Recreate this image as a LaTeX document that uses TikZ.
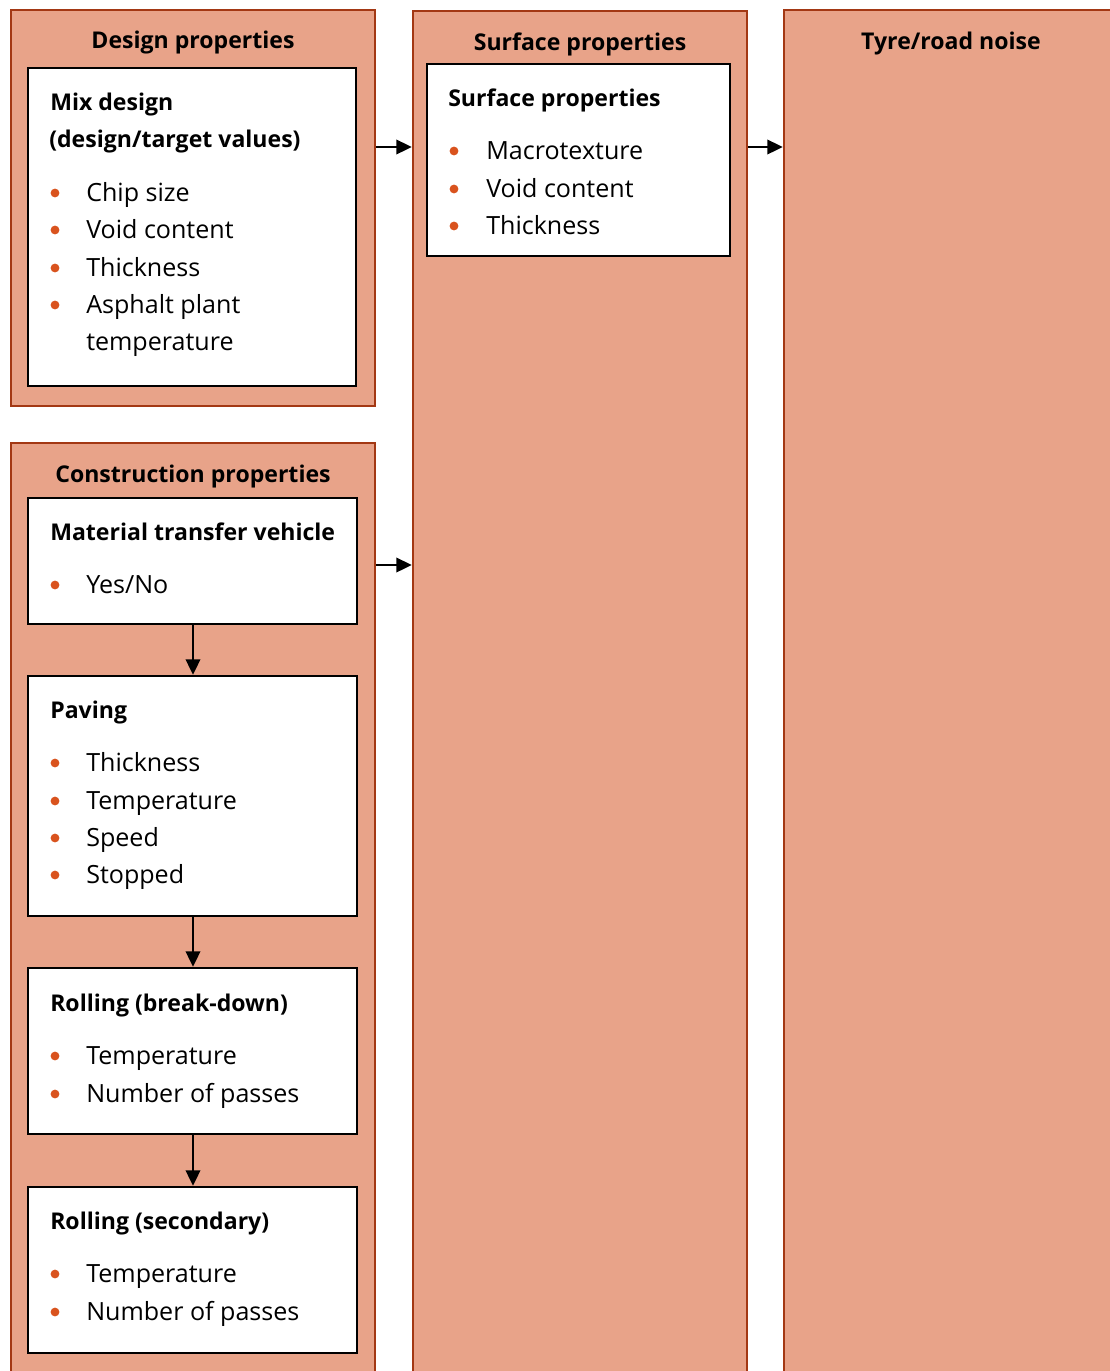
\documentclass[tikz,border=0pt]{standalone}
\usepackage{fontspec}
\setmainfont{Open Sans}
\usetikzlibrary{arrows.meta,fit}
\definecolor{panelfill}{RGB}{232,163,137}
\definecolor{paneldraw}{RGB}{163,56,20}
\definecolor{dotcol}{RGB}{217,83,30}
\tikzset{
  panel/.style={draw=paneldraw,line width=2pt,fill=panelfill,inner sep=0pt},
  inbox/.style={draw=black,line width=2pt,fill=white,inner sep=0pt},
  ttl/.style={anchor=base,inner sep=0pt,font=\fontsize{17.3pt}{20pt}\selectfont\bfseries},
  hd/.style={anchor=base west,inner sep=0pt,font=\fontsize{17.3pt}{20pt}\selectfont\bfseries},
  item/.style={anchor=base west,inner sep=0pt,font=\fontsize{18.8pt}{22pt}\selectfont},
  dot/.style={fill=dotcol},
  arr/.style={line width=1.2pt,-{Triangle[length=11.5pt,width=11pt]}}
}
\begin{document}
\begin{tikzpicture}[x=0.75pt,y=0.75pt,yscale=-1,xscale=1]
\useasboundingbox (0,0) rectangle (1110,1371);
\clip (0,0) rectangle (1110,1371);

% panels
\node[panel,fit={(11,10) (375,406)}] (design) {};
\node[panel,fit={(413,11) (747,1390)}] (surface) {};
\node[panel,fit={(784,10) (1130,1390)}] (noise) {};
\node[panel,fit={(11,443) (375,1390)}] (constr) {};

% panel titles
\node[ttl] (designttl) at (193,48) {Design properties};
\node[ttl] (surfacettl) at (580,50) {Surface properties};
\node[ttl] (noisettl) at (951,49) {Tyre/road noise};
\node[ttl] (constrttl) at (193,482) {Construction properties};

% inner boxes
\node[inbox,fit={(28,68) (356,386)}] (mix) {};
\node[inbox,fit={(427,64) (730,256)}] (surf) {};
\node[inbox,fit={(28,498) (357,624)}] (mtv) {};
\node[inbox,fit={(28,676) (357,916)}] (paving) {};
\node[inbox,fit={(28,968) (357,1134)}] (rollbd) {};
\node[inbox,fit={(28,1187) (357,1353)}] (rollsec) {};

% box headings
\node[hd] (mixhd1) at (50,110) {Mix design};
\node[hd] (mixhd2) at (49,147) {(design/target values)};
\node[hd] (surfhd) at (448,106) {Surface properties};
\node[hd] (mtvhd) at (50,540) {Material transfer vehicle};
\node[hd] (pavinghd) at (50,718) {Paving};
\node[hd] (rollbdhd) at (50,1011) {Rolling (break-down)};
\node[hd] (rollsechd) at (50,1229) {Rolling (secondary)};

% bullet items
\foreach \y/\t in {201/Chip size,238/Void content,276/Thickness,313/Asphalt plant,
  593/{Yes/No},771/Thickness,809/Temperature,846/Speed,883/Stopped,
  1064/Temperature,1102/Number of passes,1282/Temperature,1320/Number of passes}{
  \fill[dot] (55,\y-8) circle (3.3pt);
  \node[item] (it\y) at (86,\y) {\t};
}
\node[item] (it350) at (86,350) {temperature};
\foreach \y/\t in {159/Macrotexture,197/Void content,234/Thickness}{
  \fill[dot] (454,\y-8) circle (3.3pt);
  \node[item] (sit\y) at (486,\y) {\t};
}

% connectors
\coordinate (ya) at (0,147);
\coordinate (yb) at (0,565);
\draw[arr] (design.east |- ya) -- (surface.west |- ya);
\draw[arr] (surface.east |- ya) -- (noise.west |- ya);
\draw[arr] (constr.east |- yb) -- (surface.west |- yb);
\draw[arr] (mtv.south -| 193,0) -- (paving.north -| 193,0);
\draw[arr] (paving.south -| 193,0) -- (rollbd.north -| 193,0);
\draw[arr] (rollbd.south -| 193,0) -- (rollsec.north -| 193,0);

\end{tikzpicture}
\end{document}
